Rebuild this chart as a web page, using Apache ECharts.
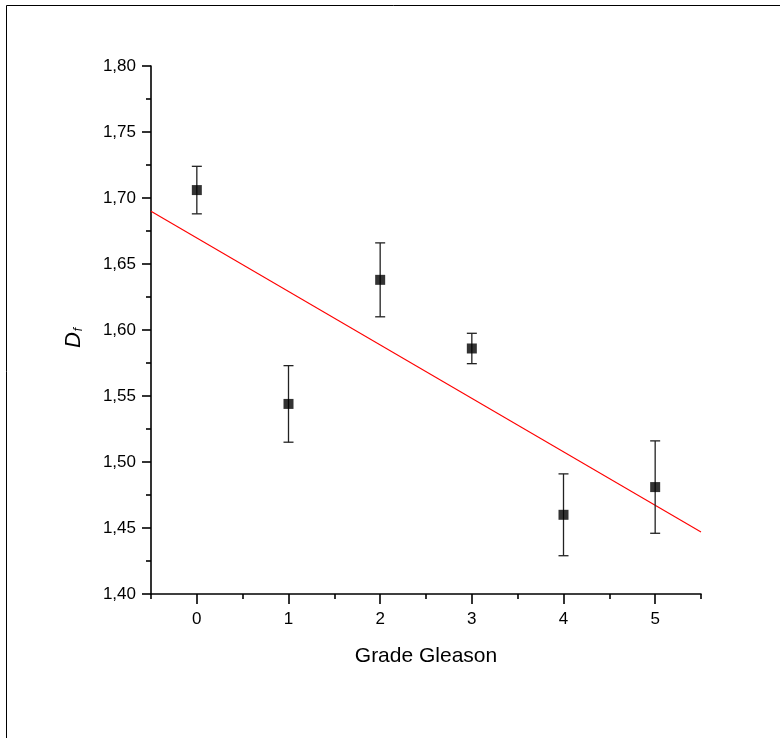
<!DOCTYPE html>
<html>
<head>
<meta charset="utf-8">
<script src="https://cdn.jsdelivr.net/npm/echarts@6/dist/echarts.min.js"></script>
<style>html,body{margin:0;padding:0;background:#fff}#c{width:780px;height:738px}</style>
</head>
<body>
<div id="c"></div>
<script>
var grades = [0, 1, 2, 3, 4, 5];
var dfMean = [1.706, 1.544, 1.638, 1.586, 1.460, 1.481];
var dfErr = [0.018, 0.029, 0.028, 0.0115, 0.031, 0.035];
var fitX = [-0.5, 5.5];
var fitY = [1.690, 1.447];
var xTickLabels = [0, 1, 2, 3, 4, 5];
var xMinorTicks = [-0.5, 0.5, 1.5, 2.5, 3.5, 4.5, 5.5];

var FONT = '"Liberation Sans", Arial, sans-serif';
var chart = echarts.init(document.getElementById('c'), null, {renderer: 'canvas'});

var points = grades.map(function (g, i) { return [g, dfMean[i]]; });
var errData = grades.map(function (g, i) { return [g, dfMean[i] - dfErr[i], dfMean[i] + dfErr[i]]; });
var fitData = fitX.map(function (x, i) { return [x, fitY[i]]; });

chart.setOption({
  animation: false,
  backgroundColor: '#fff',
  graphic: [
    {type: 'line', shape: {x1: 6.5, y1: 5.5, x2: 780, y2: 5.5}, style: {stroke: '#000', lineWidth: 1}},
    {type: 'line', shape: {x1: 6.5, y1: 5.5, x2: 6.5, y2: 738}, style: {stroke: '#000', lineWidth: 1}}
  ],
  grid: {left: 151, right: 79, top: 66, bottom: 144, containLabel: false},
  xAxis: [{
    type: 'value', min: -0.5, max: 5.5, interval: 0.5,
    name: 'Grade Gleason', nameLocation: 'middle', nameGap: 52,
    nameTextStyle: {fontFamily: FONT, fontSize: 21, color: '#000'},
    axisLine: {show: true, onZero: false, lineStyle: {color: '#000', width: 1.6}},
    axisTick: {show: true, inside: false, length: 10, lineStyle: {color: '#000', width: 1.6}, customValues: xTickLabels},
    axisLabel: {show: true, margin: 17, fontFamily: FONT, fontSize: 17, color: '#000', customValues: xTickLabels,
      formatter: function (v) { return String(v); }},
    splitLine: {show: false}
  }, {
    type: 'value', min: -0.5, max: 5.5, interval: 0.5, position: 'bottom',
    axisLine: {show: false, onZero: false},
    axisTick: {show: true, inside: false, length: 5, lineStyle: {color: '#000', width: 1.6}, customValues: xMinorTicks},
    axisLabel: {show: false},
    splitLine: {show: false}
  }],
  yAxis: {
    type: 'value', min: 1.40, max: 1.80, interval: 0.05,
    name: '{d|D}{f|f}', nameLocation: 'middle', nameGap: 66, nameRotate: 90,
    nameTextStyle: {
      rich: {
        d: {fontFamily: FONT, fontSize: 22, fontStyle: 'italic', color: '#000'},
        f: {fontFamily: FONT, fontSize: 12, fontStyle: 'italic', color: '#000', verticalAlign: 'bottom', padding: [10, 16, 0, 1]}
      }
    },
    axisLine: {show: true, onZero: false, lineStyle: {color: '#000', width: 1.6}},
    axisTick: {show: true, inside: false, length: 9, lineStyle: {color: '#000', width: 1.6}},
    minorTick: {show: true, splitNumber: 2, length: 5, lineStyle: {color: '#000', width: 1.6}},
    axisLabel: {margin: 15, fontFamily: FONT, fontSize: 17, color: '#000',
      formatter: function (v) { return v.toFixed(2).replace('.', ','); }},
    splitLine: {show: false},
    minorSplitLine: {show: false}
  },
  series: [{
    type: 'line', data: fitData, showSymbol: false, symbol: 'none',
    lineStyle: {color: '#ff0000', width: 1.1}, z: 2
  }, {
    type: 'custom', data: errData, z: 3,
    renderItem: function (params, api) {
      var x = api.value(0);
      var lo = api.coord([x, api.value(1)]);
      var hi = api.coord([x, api.value(2)]);
      var cw = 5;
      var st = {stroke: '#222', lineWidth: 1.3, fill: null};
      return {type: 'group', children: [
        {type: 'line', shape: {x1: lo[0], y1: lo[1], x2: hi[0], y2: hi[1]}, style: st},
        {type: 'line', shape: {x1: lo[0] - cw, y1: lo[1], x2: lo[0] + cw, y2: lo[1]}, style: st},
        {type: 'line', shape: {x1: hi[0] - cw, y1: hi[1], x2: hi[0] + cw, y2: hi[1]}, style: st}
      ]};
    }
  }, {
    type: 'scatter', data: points, symbol: 'rect', symbolSize: [10, 10],
    itemStyle: {color: '#000'}, z: 4
  }]
});
</script>
</body>
</html>
